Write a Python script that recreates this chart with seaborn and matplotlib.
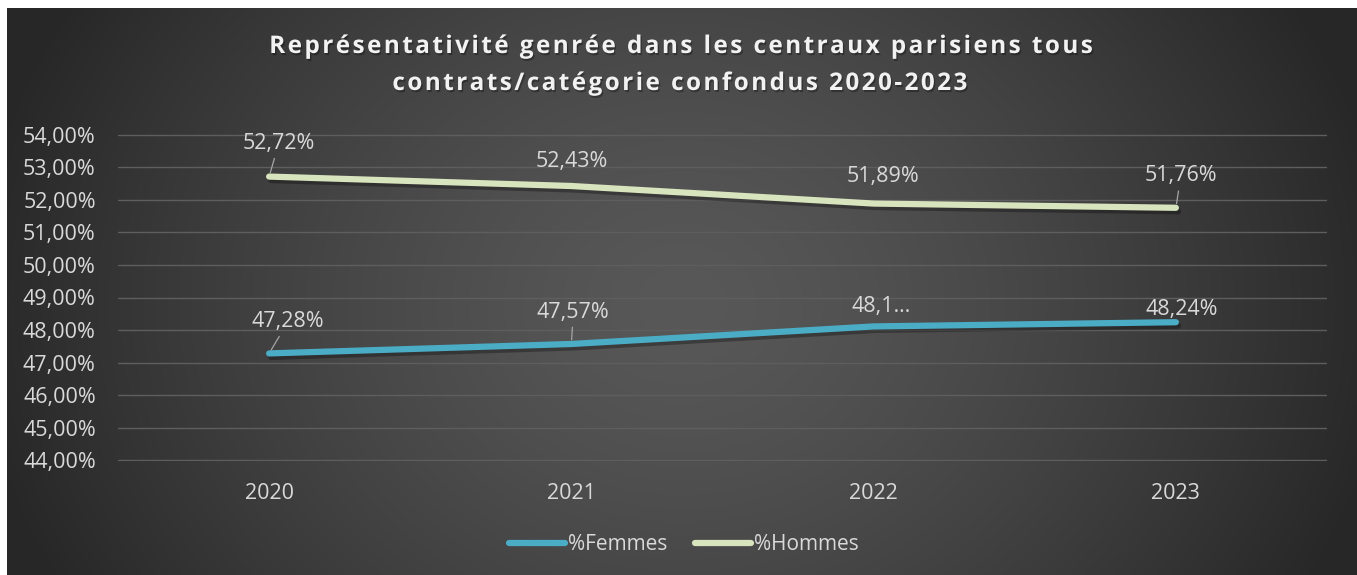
import numpy as np
import pandas as pd
import matplotlib
matplotlib.use('Agg')
import matplotlib.pyplot as plt
import matplotlib.patheffects as pe
from matplotlib.lines import Line2D
from matplotlib.ticker import FuncFormatter
import seaborn as sns

# Data
years = [2020, 2021, 2022, 2023]
femmes = [47.28, 47.57, 48.11, 48.24]
hommes = [52.72, 52.43, 51.89, 51.76]
femmes_labels = ['47,28%', '47,57%', '48,1…', '48,24%']
hommes_labels = ['52,72%', '52,43%', '51,89%', '51,76%']
series_names = ['%Femmes', '%Hommes']
title_lines = ['Représentativité genrée dans les centraux parisiens tous',
               'contrats/catégorie confondus 2020-2023']

df = pd.DataFrame({
    'annee': years * 2,
    'valeur': femmes + hommes,
    'serie': [series_names[0]] * 4 + [series_names[1]] * 4,
})

palette = {'%Femmes': '#4bacc6', '%Hommes': '#d7e4bd'}
text_col = '#d9d9d9'

sns.set_theme(style='dark')
plt.rcParams['font.family'] = ['Open Sans', 'DejaVu Sans']

fig = plt.figure(figsize=(13.57, 5.75), dpi=100)
fig.patch.set_facecolor('white')

# dark radial gradient panel behind the chart
bg = fig.add_axes([7 / 1357, 0, 1 - 7 / 1357, 1 - 8 / 575])
h, w = 300, 700
yy, xx = np.mgrid[0:h, 0:w]
d = np.sqrt(((xx - w * 0.5) / (w * 0.53)) ** 2 + ((yy - h * 0.52) / (h * 1.05)) ** 2)
d = np.clip(d, 0, 1) ** 1.4
grey = (0x58 + (0x27 - 0x58) * d) / 255.0
bg.imshow(np.dstack([grey, grey, grey]), aspect='auto', extent=[0, 1, 0, 1])
bg.set_axis_off()

ax = fig.add_axes([118 / 1357, 1 - 461 / 575, (1327 - 118) / 1357, (461 - 134) / 575])
ax.set_facecolor('none')

shadow = [pe.SimpleLineShadow(offset=(1.5, -2.5), shadow_color='black', alpha=0.3), pe.Normal()]
sns.lineplot(data=df, x='annee', y='valeur', hue='serie', hue_order=series_names,
             palette=palette, linewidth=4.5, ax=ax, legend=False,
             solid_capstyle='round', solid_joinstyle='round', path_effects=shadow)

ax.set_xlim(2019.5, 2023.5)
ax.set_ylim(43.97, 54.03)
ax.set_yticks(np.arange(44, 55, 1))
ax.set_xticks(years)
ax.set_xticklabels([str(y) for y in years])
ax.yaxis.set_major_formatter(FuncFormatter(lambda v, p: '{:.2f}%'.format(v).replace('.', ',')))
ax.grid(axis='y', color='#5e5e5e', linewidth=1)
ax.grid(axis='x', visible=False)
for s in ax.spines.values():
    s.set_visible(False)
ax.tick_params(axis='both', length=0, labelsize=15.5, labelcolor=text_col)
ax.tick_params(axis='y', pad=16)
ax.tick_params(axis='x', pad=16)
ax.set_xlabel('')
ax.set_ylabel('')

# data labels (offsets in points) and whether a leader line is drawn
hommes_off = [(7, 24), (0, 18), (6.5, 19.5), (3.6, 23)]
hommes_lead = [True, False, False, True]
femmes_off = [(13.7, 23), (1.4, 23), (5.8, 14.4), (4.3, 9.5)]
femmes_lead = [True, True, False, False]

for vals, labs, offs, leads in [(hommes, hommes_labels, hommes_off, hommes_lead),
                                (femmes, femmes_labels, femmes_off, femmes_lead)]:
    for x, v, lab, off, lead in zip(years, vals, labs, offs, leads):
        arrow = dict(arrowstyle='-', color='#a6a6a6', lw=0.9, shrinkA=1, shrinkB=3) if lead else None
        ax.annotate(lab, (x, v), xytext=off, textcoords='offset points',
                    ha='center', va='center', fontsize=15.5, color=text_col,
                    arrowprops=arrow)

# title with a little letter spacing
hair = '\u200a'
for i, line in enumerate(title_lines):
    spaced = hair.join(line)
    fig.text(0.5, 1 - (47 + 37 * i) / 575, spaced, ha='center', va='center',
             fontsize=17.5, fontweight='bold', color='#f2f2f2',
             path_effects=[pe.withSimplePatchShadow(offset=(1, -1.5), shadow_rgbFace='black', alpha=0.3)])

handles = [Line2D([0], [0], color=palette[n], lw=4.5, solid_capstyle='round') for n in series_names]
leg = fig.legend(handles, series_names, loc='center', bbox_to_anchor=(684 / 1357, 1 - 545 / 575),
                 ncol=2, frameon=False, fontsize=15, handlelength=2.7, handletextpad=0.15,
                 columnspacing=1.3)
for t in leg.get_texts():
    t.set_color(text_col)

fig.savefig('out.png', dpi=100, facecolor=fig.get_facecolor())
